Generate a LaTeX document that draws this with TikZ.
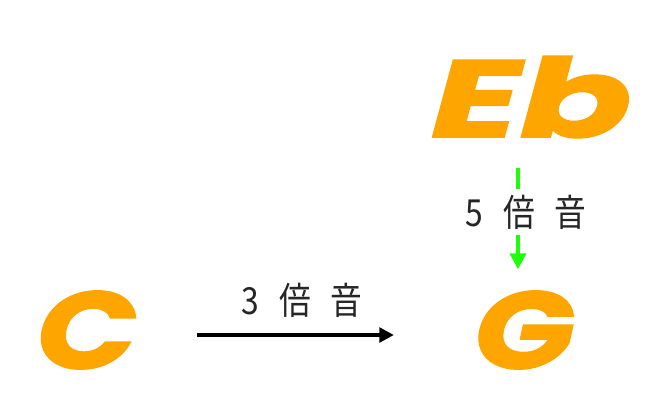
\documentclass[tikz,border=0pt]{standalone}
\usepackage{fontspec}
\newfontfamily\letterfont[FakeSlant=0.18,FakeBold=1.5]{Poppins Bold}
\newfontfamily\cjkfont{Noto Sans CJK JP}
\usetikzlibrary{arrows.meta}
\definecolor{noteorange}{RGB}{255,165,0}
\definecolor{brightgreen}{RGB}{30,255,10}
\begin{document}
\begin{tikzpicture}[x=0.75pt,y=-0.75pt,
  note/.style={inner sep=0pt,text=noteorange,font=\letterfont\fontsize{82}{82}\selectfont},
  lbl/.style={inner sep=0pt,font=\cjkfont\fontsize{28}{28}\selectfont,text=black!85},
  blackarrow/.style={draw=black,line width=3pt,-{Triangle[length=11pt,width=11pt]}},
  greenarrow/.style={draw=brightgreen,line width=3pt,-{Triangle[length=12pt,width=12pt]}}]
\useasboundingbox[fill=white] (0,0) rectangle (659,414);
\node[note] (C) at (80,330) {\scalebox{1.2}[1]{C}};
\node[note] (G) at (517.5,330) {\scalebox{1.2}[1]{G}};
\node[note] (Eb) at (523,97) {\scalebox{1.5}[1]{Eb}};
\draw[blackarrow] ([xshift=50pt]C.east |- 0,335) -- ([xshift=-55pt]G.west |- 0,335);
\node[lbl] (l3) at (302,300) {\scalebox{0.85}[1]{3 \hspace{11pt}倍 \hspace{11pt}音}};
\coordinate (gtop) at (518,168);
\draw[greenarrow,shorten >=16pt] (gtop) -- (gtop |- G.north);
\node[lbl,fill=white,inner ysep=4pt] (l5) at (526,212) {\scalebox{0.85}[1]{5 \hspace{11pt}倍 \hspace{11pt}音}};
\end{tikzpicture}
\end{document}
